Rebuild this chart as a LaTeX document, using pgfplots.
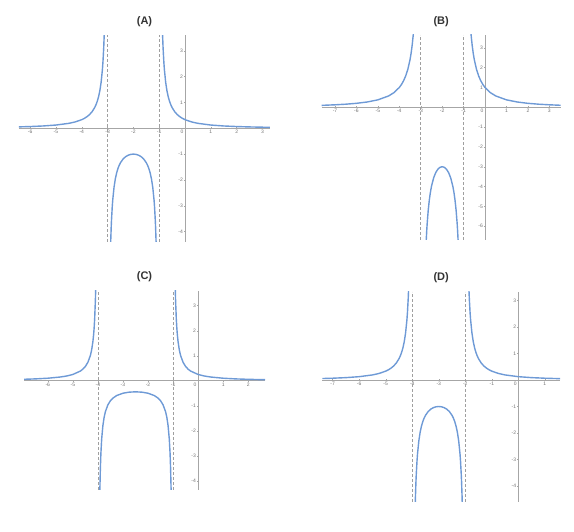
\documentclass[border=0pt]{standalone}
\usepackage{fontspec}
\setmainfont{Liberation Sans}
\usepackage{pgfplots}
\pgfplotsset{compat=1.18}
\definecolor{curveblue}{RGB}{110,154,214}
\pgfplotsset{
  panel/.style={
    scale only axis, anchor=south west,
    axis lines=middle, axis line style={gray!70, line width=0.6pt, -},
    tick style={gray!70, line width=0.4pt}, major tick length=2pt,
    ticklabel style={font=\fontsize{5}{6}\selectfont, text=gray!90!black, inner sep=1pt},
    /pgf/number format/assume math mode=true,
    title style={font=\bfseries\fontsize{11}{12}\selectfont, text=black!80, inner sep=2.5pt},
    extra x ticks={0},
    extra x tick style={xticklabel style={xshift=-3pt}},
    clip=true,
  },
  curve/.style={color=curveblue, line width=1.4pt, line join=round},
  asym/.style={gray!75, line width=0.8pt, dash pattern=on 3pt off 2pt},
}
\begin{document}
\begin{tikzpicture}
\path[use as bounding box] (0,0) rectangle (574pt,532pt);
% (A)
\begin{axis}[panel, at={(19pt,290.3pt)}, width=251pt, height=206.7pt,
  xmin=-6.43, xmax=3.29, ymin=-4.39, ymax=3.61,
  xtick={-6,-5,-4,-3,-2,-1,1,2,3}, ytick={-4,-3,-2,-1,1,2,3},
  title={(A)}]
\addplot[asym] coordinates {(-3,-4.39) (-3,3.61)};
\addplot[asym] coordinates {(-1,-4.39) (-1,3.61)};
\addplot[curve] coordinates {(-6.5,0.0519) (-6,0.0667) (-5.5,0.0889) (-5,0.125) (-4.5,0.1905) (-4.25,0.2462) (-4,0.3333) (-3.9,0.3831) (-3.8,0.4464) (-3.7,0.5291) (-3.6,0.641) (-3.5,0.8) (-3.45,0.907) (-3.4,1.042) (-3.35,1.2158) (-3.3,1.449) (-3.25,1.778) (-3.2,2.273) (-3.18,2.548) (-3.15,3.101) (-3.13,3.611) (-3.12,3.931) (-3.1,4.762)};
\addplot[curve] coordinates {(-0.9,4.762) (-0.88,3.931) (-0.87,3.611) (-0.85,3.101) (-0.82,2.548) (-0.8,2.273) (-0.75,1.778) (-0.7,1.449) (-0.65,1.2158) (-0.6,1.042) (-0.55,0.907) (-0.5,0.8) (-0.4,0.641) (-0.3,0.5291) (-0.2,0.4464) (-0.1,0.3831) (0,0.3333) (0.25,0.2462) (0.5,0.1905) (1,0.125) (1.5,0.0889) (2,0.0667) (2.5,0.0519) (3,0.0417) (3.5,0.0342)};
\addplot[curve] coordinates {(-2.9,-5.2632) (-2.88,-4.4326) (-2.86,-3.840) (-2.85,-3.6036) (-2.82,-3.0525) (-2.8,-2.7778) (-2.75,-2.2857) (-2.7,-1.9608) (-2.65,-1.7316) (-2.6,-1.5625) (-2.55,-1.4337) (-2.5,-1.3333) (-2.4,-1.1905) (-2.3,-1.0989) (-2.2,-1.0417) (-2.1,-1.0101) (-2,-1) (-1.9,-1.0101) (-1.8,-1.0417) (-1.7,-1.0989) (-1.6,-1.1905) (-1.5,-1.3333) (-1.45,-1.4337) (-1.4,-1.5625) (-1.35,-1.7316) (-1.3,-1.9608) (-1.25,-2.2857) (-1.2,-2.7778) (-1.18,-3.0525) (-1.15,-3.6036) (-1.14,-3.840) (-1.12,-4.4326) (-1.1,-5.2632)};
\end{axis}
% (B)
\begin{axis}[panel, at={(321.7pt,292pt)}, width=239pt, height=205pt,
  xmin=-7.62, xmax=3.53, ymin=-6.7, ymax=3.65,
  xtick={-7,-6,-5,-4,-3,-2,-1,1,2,3}, ytick={-6,-5,-4,-3,-2,-1,1,2,3},
  title={(B)}]
\addplot[asym] coordinates {(-3,-6.7) (-3,3.65)};
\addplot[asym] coordinates {(-1,-6.7) (-1,3.65)};
\addplot[curve] coordinates {(-7.7,0.0953) (-7.5,0.1026) (-7,0.125) (-6.5,0.1558) (-6,0.2) (-5.5,0.2667) (-5,0.375) (-4.5,0.5714) (-4.25,0.7385) (-4,1.0) (-3.9,1.149) (-3.8,1.339) (-3.7,1.587) (-3.6,1.923) (-3.5,2.4) (-3.45,2.721) (-3.4,3.125) (-3.35,3.647) (-3.3,4.348) (-3.25,5.333)};
\addplot[curve] coordinates {(-0.75,5.333) (-0.7,4.348) (-0.65,3.647) (-0.6,3.125) (-0.55,2.721) (-0.5,2.4) (-0.4,1.923) (-0.3,1.587) (-0.2,1.339) (-0.1,1.149) (0,1) (0.25,0.7385) (0.5,0.5714) (1,0.375) (1.5,0.2667) (2,0.2) (2.5,0.1558) (3,0.125) (3.5,0.1026) (3.7,0.0953)};
\addplot[curve] coordinates {(-2.8,-8.333) (-2.75,-6.857) (-2.72,-6.229) (-2.7,-5.8824) (-2.65,-5.1948) (-2.6,-4.6875) (-2.55,-4.3011) (-2.5,-4) (-2.4,-3.5714) (-2.3,-3.2967) (-2.2,-3.125) (-2.1,-3.0303) (-2,-3) (-1.9,-3.0303) (-1.8,-3.125) (-1.7,-3.2967) (-1.6,-3.5714) (-1.5,-4) (-1.45,-4.3011) (-1.4,-4.6875) (-1.35,-5.1948) (-1.3,-5.8824) (-1.28,-6.229) (-1.25,-6.857) (-1.2,-8.333)};
\end{axis}
% (C)
\begin{axis}[panel, at={(24pt,42pt)}, width=241pt, height=199.3pt,
  xmin=-6.95, xmax=2.67, ymin=-4.37, ymax=3.6,
  xtick={-7,-6,-5,-4,-3,-2,-1,1,2}, ytick={-4,-3,-2,-1,1,2,3},
  title={(C)}]
\addplot[asym] coordinates {(-4,-4.37) (-4,3.6)};
\addplot[asym] coordinates {(-1,-4.37) (-1,3.6)};
\addplot[curve] coordinates {(-7,0.0556) (-6.5,0.0727) (-6,0.1) (-5.5,0.1481) (-5.25,0.1882) (-5,0.25) (-4.7,0.3861) (-4.6,0.463) (-4.5,0.5714) (-4.4,0.7353) (-4.3,1.0101) (-4.25,1.2308) (-4.2,1.5625) (-4.17,1.856) (-4.15,2.116) (-4.13,2.458) (-4.1,3.226) (-4.09,3.596) (-4.08,4.058) (-4.07,4.653)};
\addplot[curve] coordinates {(-0.93,4.653) (-0.92,4.058) (-0.91,3.596) (-0.9,3.226) (-0.87,2.458) (-0.85,2.116) (-0.83,1.856) (-0.8,1.5625) (-0.75,1.2308) (-0.7,1.0101) (-0.6,0.7353) (-0.5,0.5714) (-0.4,0.463) (-0.3,0.3861) (0,0.25) (0.25,0.1882) (0.5,0.1481) (1,0.1) (1.5,0.0727) (2,0.0556) (2.5,0.044) (3,0.0357)};
\addplot[curve] coordinates {(-3.93,-4.8757) (-3.92,-4.2808) (-3.9,-3.4483) (-3.88,-2.8935) (-3.85,-2.3392) (-3.8,-1.7857) (-3.75,-1.4545) (-3.7,-1.2346) (-3.6,-0.9615) (-3.5,-0.8) (-3.4,-0.6944) (-3.25,-0.5926) (-3,-0.5) (-2.75,-0.4571) (-2.5,-0.4444) (-2.25,-0.4571) (-2,-0.5) (-1.75,-0.5926) (-1.6,-0.6944) (-1.5,-0.8) (-1.4,-0.9615) (-1.3,-1.2346) (-1.25,-1.4545) (-1.2,-1.7857) (-1.15,-2.3392) (-1.12,-2.8935) (-1.1,-3.4483) (-1.08,-4.2808) (-1.07,-4.8757)};
\end{axis}
% (D)
\begin{axis}[panel, at={(322.3pt,30.3pt)}, width=237.7pt, height=210pt,
  xmin=-7.39, xmax=1.57, ymin=-4.59, ymax=3.33,
  xtick={-7,-6,-5,-4,-3,-2,-1,1}, ytick={-4,-3,-2,-1,1,2,3},
  title={(D)}]
\addplot[asym] coordinates {(-4,-4.59) (-4,3.33)};
\addplot[asym] coordinates {(-2,-4.59) (-2,3.33)};
\addplot[curve] coordinates {(-7.5,0.0519) (-7,0.0667) (-6.5,0.0889) (-6,0.125) (-5.5,0.1905) (-5.25,0.2462) (-5,0.3333) (-4.9,0.3831) (-4.8,0.4464) (-4.7,0.5291) (-4.6,0.641) (-4.5,0.8) (-4.45,0.907) (-4.4,1.042) (-4.35,1.2158) (-4.3,1.449) (-4.25,1.778) (-4.2,2.273) (-4.18,2.548) (-4.15,3.101) (-4.13,3.611) (-4.12,3.931) (-4.1,4.762)};
\addplot[curve] coordinates {(-1.9,4.762) (-1.88,3.931) (-1.87,3.611) (-1.85,3.101) (-1.82,2.548) (-1.8,2.273) (-1.75,1.778) (-1.7,1.449) (-1.65,1.2158) (-1.6,1.042) (-1.55,0.907) (-1.5,0.8) (-1.4,0.641) (-1.3,0.5291) (-1.2,0.4464) (-1.1,0.3831) (-1,0.3333) (-0.75,0.2462) (-0.5,0.1905) (0,0.125) (0.5,0.0889) (1,0.0667) (1.5,0.0519) (2,0.0417)};
\addplot[curve] coordinates {(-3.9,-5.2632) (-3.88,-4.4326) (-3.86,-3.840) (-3.85,-3.6036) (-3.82,-3.0525) (-3.8,-2.7778) (-3.75,-2.2857) (-3.7,-1.9608) (-3.65,-1.7316) (-3.6,-1.5625) (-3.55,-1.4337) (-3.5,-1.3333) (-3.4,-1.1905) (-3.3,-1.0989) (-3.2,-1.0417) (-3.1,-1.0101) (-3,-1) (-2.9,-1.0101) (-2.8,-1.0417) (-2.7,-1.0989) (-2.6,-1.1905) (-2.5,-1.3333) (-2.45,-1.4337) (-2.4,-1.5625) (-2.35,-1.7316) (-2.3,-1.9608) (-2.25,-2.2857) (-2.2,-2.7778) (-2.18,-3.0525) (-2.15,-3.6036) (-2.14,-3.840) (-2.12,-4.4326) (-2.1,-5.2632)};
\end{axis}
\end{tikzpicture}
\end{document}
